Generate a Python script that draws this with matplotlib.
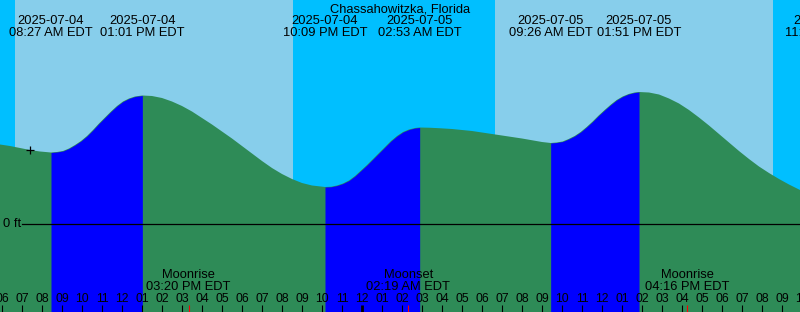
import matplotlib
matplotlib.use("Agg")
import matplotlib.pyplot as plt
import numpy as np

plt.rcParams['font.family'] = ['Liberation Sans', 'DejaVu Sans']

title = "Chassahowitzka, Florida"

# tide curve: hours since 2025-07-04 00:00 EDT, height in ft
curve_t = [5.90, 6.40, 6.90, 7.40, 7.90, 8.45,
           8.75, 9.05, 9.35, 9.65, 9.95, 10.25, 10.55, 10.85, 11.15, 11.45,
           11.75, 12.05, 12.35, 12.65, 13.017,
           13.50, 14.00, 14.50, 15.00, 15.50, 16.00, 16.50, 17.00, 17.50, 18.00,
           18.50, 19.00, 19.50, 20.00, 20.50, 21.00, 21.50, 22.15,
           22.45, 22.75, 23.05, 23.35, 23.65, 23.95, 24.25, 24.55, 24.85, 25.15,
           25.45, 25.75, 26.05, 26.35, 26.65, 26.883,
           27.40, 27.90, 28.50, 29.00, 29.50, 30.00, 30.50, 31.00, 31.50, 32.00,
           32.50, 33.00, 33.433,
           33.733, 34.033, 34.333, 34.633, 34.933, 35.233, 35.533, 35.833, 36.133,
           36.433, 36.733, 37.033, 37.333, 37.633, 37.85,
           38.35, 38.85, 39.35, 39.85, 40.35, 40.85, 41.35, 41.85, 42.35, 42.85,
           43.35, 43.85, 44.35, 44.85, 45.35, 45.90]
curve_ft = [1.59, 1.56, 1.52, 1.48, 1.45, 1.43,
            1.44, 1.46, 1.51, 1.58, 1.66, 1.76, 1.88, 2.01, 2.13, 2.25,
            2.36, 2.45, 2.51, 2.55, 2.57,
            2.56, 2.52, 2.45, 2.36, 2.25, 2.12, 1.99, 1.85, 1.71, 1.56,
            1.41, 1.26, 1.12, 1.00, 0.90, 0.82, 0.77, 0.74,
            0.745, 0.77, 0.81, 0.87, 0.96, 1.07, 1.18, 1.30, 1.42, 1.54,
            1.66, 1.76, 1.84, 1.89, 1.92, 1.93,
            1.925, 1.915, 1.90, 1.88, 1.86, 1.83, 1.80, 1.77, 1.74, 1.71,
            1.675, 1.64, 1.62,
            1.63, 1.65, 1.70, 1.76, 1.84, 1.94, 2.05, 2.17, 2.28,
            2.385, 2.48, 2.55, 2.60, 2.63, 2.64,
            2.63, 2.59, 2.51, 2.41, 2.28, 2.13, 1.97, 1.80, 1.63, 1.46,
            1.30, 1.15, 1.02, 0.90, 0.79, 0.68]

# high / low tides
tide_t = [8.45, 13.017, 22.15, 26.883, 33.433, 37.85, 47.25]
tide_kind = ['low', 'high', 'low', 'high', 'low', 'high', 'low']
tide_date = ['2025-07-04', '2025-07-04', '2025-07-04', '2025-07-05',
             '2025-07-05', '2025-07-05', '2025-07-05']
tide_clock = ['08:27 AM EDT', '01:01 PM EDT', '10:09 PM EDT', '02:53 AM EDT',
              '09:26 AM EDT', '01:51 PM EDT', '11:15 PM EDT']

sunrise = [6.65, 30.65]
sunset = [20.55, 44.55]

moon_t = [15.333, 26.317, 40.267]
moon_name = ['Moonrise', 'Moonset', 'Moonrise']
moon_clock = ['03:20 PM EDT', '02:19 AM EDT', '04:16 PM EDT']

now_t, now_ft = 7.40, 1.48

T0, T1 = 5.9, 45.9
Y0, Y1 = -1.76, 4.48
H = 312.0


def fy(p):
    # pixel row from top -> axes fraction
    return 1 - p / H


fig = plt.figure(figsize=(8, 3.12), dpi=100)
ax = fig.add_axes([0, 0, 1, 1])
ax.set_xlim(T0, T1)
ax.set_ylim(Y0, Y1)
ax.axis('off')
xt = ax.get_xaxis_transform()

### sky
ax.axvspan(T0, T1, color='#00bfff', lw=0)
for r, s in zip(sunrise, sunset):
    ax.axvspan(r, s, color='#87ceeb', lw=0)

### water: green while falling, blue while rising
t = np.array(curve_t)
f = np.array(curve_ft)
ax.fill_between(t, Y0, f, color='#2e8b57', lw=0)
for i in range(len(tide_t) - 1):
    if tide_kind[i] == 'low':
        m = (t >= tide_t[i] - 0.01) & (t <= tide_t[i + 1] + 0.01)
        ax.fill_between(t[m], Y0, f[m], color='#0000ff', lw=0)

### 0 ft line
ax.plot([7.0, T1], [0, 0], color='black', lw=0.9)
ax.text(T0 + 0.13, 0, '0 ft', fontsize=9.3, va='center', ha='left', color='black')

### now marker
ax.plot([now_t], [now_ft], marker='+', color='black', ms=5.5, mew=0.9)

### title and tide labels
ax.text((T0 + T1) / 2, fy(12), title, transform=xt, ha='center', va='baseline', fontsize=9.3)
for tt, d, c in zip(tide_t, tide_date, tide_clock):
    ax.text(tt, fy(24), d, transform=xt, ha='center', va='baseline', fontsize=9.3, clip_on=True)
    ax.text(tt, fy(36), c, transform=xt, ha='center', va='baseline', fontsize=9.3, clip_on=True)

### hour ticks
for hr in range(6, 47):
    lw = 2 if hr % 24 == 0 else 0.8
    ax.vlines(hr, 0, 7 / H, transform=xt, color='black', lw=lw)
    lab = '%02d' % (hr % 12 if hr % 12 else 12)
    ax.text(hr, fy(302), lab, transform=xt, ha='center', va='baseline', fontsize=8.8, clip_on=True)

### moon
for mt, n, c in zip(moon_t, moon_name, moon_clock):
    ax.vlines(mt, 0, 7 / H, transform=xt, color='red', lw=0.8)
    ax.text(mt, fy(278), n, transform=xt, ha='center', va='baseline', fontsize=9.3)
    ax.text(mt, fy(290), c, transform=xt, ha='center', va='baseline', fontsize=9.3)

fig.savefig('out.png', dpi=100)
